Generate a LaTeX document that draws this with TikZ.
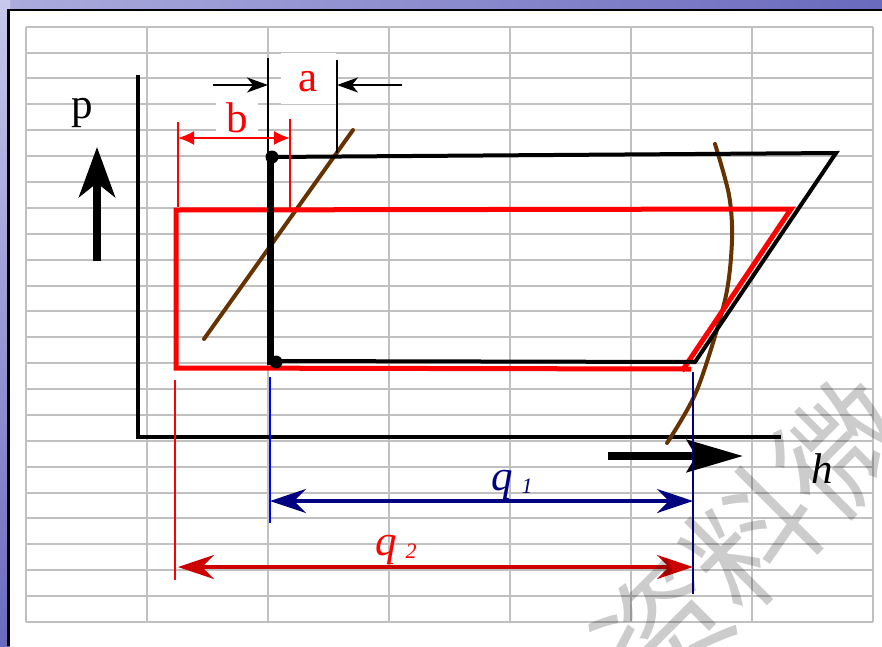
\documentclass[tikz,border=0pt]{standalone}
\usepackage{fontspec}
\setmainfont{Liberation Serif}
\newfontfamily\cjkfont{Noto Sans CJK SC}
\usepackage{tikz}
\usetikzlibrary{arrows.meta,positioning}
\definecolor{gridgray}{RGB}{192,192,192}
\definecolor{dimred}{RGB}{204,0,0}
\definecolor{qblue}{RGB}{0,0,128}
\definecolor{soil}{RGB}{102,51,0}
\definecolor{slidedark}{RGB}{106,106,190}
\definecolor{slidelight}{RGB}{200,200,236}

\begin{document}
\begin{tikzpicture}[
    x=1pt, y=-1pt,
    lbl/.style={font=\fontsize{43}{48}\selectfont, inner sep=0pt, anchor=base},
    qlbl/.style={font=\fontsize{43}{48}\selectfont\itshape, inner sep=0pt, anchor=base west},
    gridline/.style={gridgray, line width=2pt},
    cyc/.style={line width=4pt},
    redcyc/.style={red, line width=5pt},
    dimline/.style={line width=1.3pt},
    dot/.style={circle, fill=black, inner sep=0pt, minimum size=13pt},
    bigarrow/.style={line width=8pt, -{Stealth[length=50pt,width=36pt,inset=14pt]}},
    flowarrow/.style={line width=4pt, {Stealth[length=36pt,width=24pt,inset=12pt]}-{Stealth[length=36pt,width=24pt,inset=12pt]}}
]
\useasboundingbox (0,0) rectangle (882,646);
\shade[left color=slidelight!70!slidedark, right color=slidedark] (0,0) rectangle (882,11);
\shade[top color=slidelight, bottom color=slidedark] (0,0) rectangle (10,646);
\fill[white] (9.75,11.25) rectangle (882,646);
\draw[line width=2.5pt] (8.5,646) -- (8.5,10) -- (882,10);

\foreach \gx in {0,...,7}
    \draw[gridline] ({26+121*\gx},26.7) -- ({26+121*\gx},622);
\foreach \gy in {0,...,23}
    \draw[gridline] (26,{26.7+25.88*\gy}) -- (873,{26.7+25.88*\gy});

\coordinate (O) at (138,437);
\coordinate (Ptop) at (138,75);
\coordinate (Hend) at (781,437);
\draw[line width=4.5pt] (Ptop) -- (O) -- (Hend);

\coordinate (pfoot) at (97,261);
\coordinate (ptip) at (97,147);
\draw[bigarrow] (pfoot) -- (ptip);
\coordinate (hfoot) at (608,456);
\coordinate (htip) at (743,456);
\draw[line width=8pt, -{Stealth[length=56pt,width=32pt,inset=9pt]}] (hfoot) -- (htip);

\node[lbl] (plabel) at (82,118) {p};
\node[lbl, font=\fontsize{43}{48}\selectfont\itshape] (hlabel) at (822,483) {h};

\coordinate (S1) at (204,339);
\coordinate (S2) at (353,130);
\draw[soil, line width=4pt, line cap=round] (S1) -- (S2);
\draw[soil, line width=4pt, line cap=round] plot[smooth] coordinates {(715,144) (729,195) (732,240) (725,300) (697,390) (667,443)};

\coordinate (R1) at (176,210);
\coordinate (R2) at (791,209);
\coordinate (R3) at (682,371);
\coordinate (R4) at (691,369);
\coordinate (R5) at (176,368);
\draw[redcyc] (R4) -- (R5) -- (R1) -- (R2) -- (R3);

\coordinate (K1) at (270,157);
\coordinate (K0) at (270,365);
\coordinate (K2) at (836,153);
\coordinate (K3) at (695,362);
\coordinate (K4) at (275,361);
\draw[line width=7pt] (K1) -- (K0);
\draw[cyc] (K1) -- (K2) -- (K3) -- (K4);
\node[dot] (dotA) at (272,157) {};
\node[dot] (dotB) at (276,362) {};

\node[lbl, fill=white, anchor=center, text=red, minimum width=55pt, minimum height=51pt, text height=28pt] (alabel) at (308,78) {a};
\coordinate (aL1) at (268,58);
\coordinate (aL2) at (268,157);
\coordinate (aR1) at (337,60);
\coordinate (aR2) at (337,153);
\draw[dimline] (aL1) -- (aL2);
\draw[dimline] (aR1) -- (aR2);
\coordinate (aLfoot) at (213,85);
\coordinate (aLtip) at (268,85);
\coordinate (aRfoot) at (402,85);
\coordinate (aRtip) at (337,85);
\draw[line width=1.8pt, -{Stealth[length=21pt,width=15pt,inset=6pt]}] (aLfoot) -- (aLtip);
\draw[line width=1.8pt, -{Stealth[length=21pt,width=15pt,inset=6pt]}] (aRfoot) -- (aRtip);

\node[lbl, fill=white, text=red, inner xsep=10pt, inner ysep=2pt] (blabel) at (237,132) {b};
\coordinate (bL1) at (178,122);
\coordinate (bL2) at (178,207);
\coordinate (bR1) at (290,119);
\coordinate (bR2) at (290,210);
\draw[red, dimline] (bL1) -- (bL2);
\draw[red, dimline] (bR1) -- (bR2);
\coordinate (bLtip) at (178,138);
\coordinate (bRtip) at (290,138);
\draw[red, line width=1.8pt, {Latex[length=16pt,width=14pt]}-{Latex[length=16pt,width=14pt]}] (bLtip) -- (bRtip);

\coordinate (V1a) at (270,377);
\coordinate (V1b) at (270,523);
\coordinate (V2a) at (693,372);
\coordinate (V2b) at (693,594);
\coordinate (V3a) at (175,380);
\coordinate (V3b) at (175,580);
\draw[blue, dimline] (V1a) -- (V1b);
\draw[qblue, dimline] (V2a) -- (V2b);
\draw[red, dimline] (V3a) -- (V3b);

\coordinate (q1L) at (270,501);
\coordinate (q1R) at (693,501);
\coordinate (q2L) at (178,567);
\coordinate (q2R) at (693,567);
\draw[qblue, flowarrow] (q1L) -- (q1R);
\draw[dimred, flowarrow] (q2L) -- (q2R);
\node[qlbl, text=qblue] (qone) at (491,490) {q\hspace{9pt}{\fontsize{22}{22}\selectfont\raisebox{-3pt}{1}}};
\node[qlbl, text=red] (qtwo) at (375,555) {q\hspace{9pt}{\fontsize{22}{22}\selectfont\raisebox{-3pt}{2}}};

\begin{scope}
\clip (9.75,11.25) rectangle (882,646);
\node[font=\cjkfont\fontsize{128}{128}\selectfont, text=black, text opacity=0.2, rotate=45] (wmark) at (752,538) {资料微};
\end{scope}
\end{tikzpicture}
\end{document}
